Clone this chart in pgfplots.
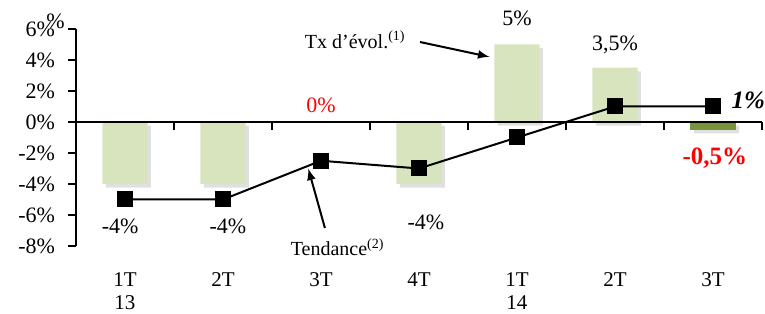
\documentclass[border=0pt]{standalone}
\usepackage{pgfplots}
\pgfplotsset{compat=1.18}
\usepackage{fontspec}
\setmainfont{Liberation Serif}
\definecolor{lg}{HTML}{D7E4BD}
\definecolor{dg}{HTML}{77933C}
\begin{document}
\begin{tikzpicture}
\begin{axis}[
 at={(38pt,34pt)}, anchor=south west,
 scale only axis, width=343pt, height=108.5pt,
 xmin=-0.5, xmax=6.5, ymin=-8, ymax=6,
 axis y line=left, axis x line=bottom, axis line style={-, line width=1pt},
 x axis line style={draw=none},
 xtick={0,...,6},
 xticklabels={1T\\13, 2T, 3T, 4T, 1T\\14, 2T, 3T},
 xticklabel style={align=center, font=\fontsize{10.5}{11.5}\selectfont, yshift=-6pt},
 xtick style={draw=none},
 ytick={-8,-6,...,6},
 yticklabels={-8\%,-6\%,-4\%,-2\%,0\%,2\%,4\%,6\%},
 yticklabel style={font=\fontsize{11}{12}\selectfont, xshift=-3pt},
 tick align=outside, major tick length=4pt,
 ytick style={line width=1pt, black},
 clip=false,
]
% soft shadows
\addplot[ybar, bar width=0.46, bar shift=0.035, fill=black, opacity=0.12, draw=none, yshift=-1.8pt]
  coordinates {(0,-4)(1,-4)(3,-4)(4,5)(5,3.5)(6,-0.5)};
\addplot[ybar, bar width=0.46, bar shift=0pt, fill=lg, draw=none]
  coordinates {(0,-4)(1,-4)(2,0)(3,-4)(4,5)(5,3.5)};
\addplot[ybar, bar width=0.46, bar shift=0pt, fill=dg, draw=none]
  coordinates {(6,-0.5)};
\draw[line width=1pt] (axis cs:-0.5,0) -- (axis cs:6.5,0);
\pgfplotsinvokeforeach{0.5,1.5,2.5,3.5,4.5,5.5,6.5}{
  \draw[line width=1pt] (axis cs:#1,0) -- ([yshift=-4pt]axis cs:#1,0);
}
\addplot[black, line width=1pt, mark=square*, mark size=3.5pt, mark options={solid}]
  coordinates {(0,-5)(1,-5)(2,-2.5)(3,-3)(4,-1)(5,1)(6,1)};
% labels
\node[font=\fontsize{11}{12}\selectfont] at (axis cs:-0.05,-6.7) {-4\%};
\node[font=\fontsize{11}{12}\selectfont] at (axis cs:1.05,-6.7) {-4\%};
\node[font=\fontsize{11}{12}\selectfont] at (axis cs:3.07,-6.45) {-4\%};
\node[font=\fontsize{11}{12}\selectfont, text=red] at (axis cs:2,1.1) {0\%};
\node[font=\fontsize{11}{12}\selectfont] at (axis cs:4,6.7) {5\%};
\node[font=\fontsize{11}{12}\selectfont] at (axis cs:5,5.0) {3,5\%};
\node[font=\fontsize{12.5}{14}\selectfont\bfseries\itshape] at (axis cs:6.36,1.4) {1\%};
\node[font=\fontsize{12.5}{14}\selectfont\bfseries, text=red] at (axis cs:6.02,-2.3) {-0,5\%};
\node[font=\fontsize{11}{12}\selectfont] at (axis cs:-0.71,6.5) {\%};
\node[font=\fontsize{10}{11}\selectfont] at (axis cs:2.35,5.3) {Tx d'évol.\textsuperscript{(1)}};
\draw[-latex, line width=1pt] (axis cs:3.01,5.16) -- (axis cs:3.72,4.2);
\node[font=\fontsize{10}{11}\selectfont] at (axis cs:2.17,-8.1) {Tendance\textsuperscript{(2)}};
\draw[-latex, line width=1pt] (axis cs:2.04,-6.84) -- (axis cs:1.87,-3.0);
\end{axis}
\pgfresetboundingbox
\path[use as bounding box] (0,0) rectangle (382.5pt,157pt);
\end{tikzpicture}
\end{document}
